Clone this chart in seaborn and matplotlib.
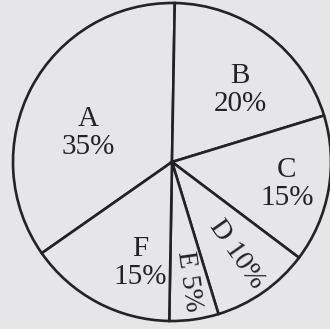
import matplotlib
matplotlib.use("Agg")
import matplotlib.pyplot as plt
import seaborn as sns
import numpy as np

sns.set_style("white")
plt.rcParams['font.family'] = ['Liberation Serif', 'DejaVu Serif']

categories = ["A", "B", "C", "D", "E", "F"]
shares = [35, 20, 15, 10, 5, 15]

bg = "#e6e6e8"
ink = "#232323"

fig = plt.figure(figsize=(3.30, 3.29), dpi=100, facecolor=bg)
cx, cy, r = 172, 162, 159
W, H = 330, 329
ax = fig.add_axes([(cx - r) / W, (H - cy - r) / H, 2 * r / W, 2 * r / H])
ax.set_facecolor(bg)

wedges, _ = ax.pie(shares, startangle=215, counterclock=False,
                   colors=[bg] * len(shares),
                   wedgeprops=dict(edgecolor=ink, linewidth=1.9))
ax.set_xlim(-1, 1)
ax.set_ylim(-1, 1)
ax.set_aspect("equal")
ax.axis("off")

def to_data(px, py):
    return (px - cx) / r, (cy - py) / r

fs = 21
labels = {
    "A": (88, 133),
    "B": (240, 90),
    "C": (287, 184),
    "F": (140, 263),
}
for cat, val in zip(categories, shares):
    if cat in labels:
        px, py = labels[cat]
        x, y = to_data(px, py)
        ax.text(x, y, f"{cat}\n{val}%", ha="center", va="center",
                fontsize=fs, color=ink, linespacing=1.1)

# radial labels inside the thin wedges, placed on each wedge's mid-angle
radial = {"D": 0.71, "E": 0.76}
for w, cat, val in zip(wedges, categories, shares):
    if cat in radial:
        mid = (w.theta1 + w.theta2) / 2
        rr = radial[cat]
        x, y = rr * np.cos(np.radians(mid)), rr * np.sin(np.radians(mid))
        ax.text(x, y, f"{cat} {val}%", ha="center", va="center",
                fontsize=fs - 1, color=ink, rotation=mid,
                rotation_mode="anchor")

fig.savefig("out.png", dpi=100, facecolor=bg)
